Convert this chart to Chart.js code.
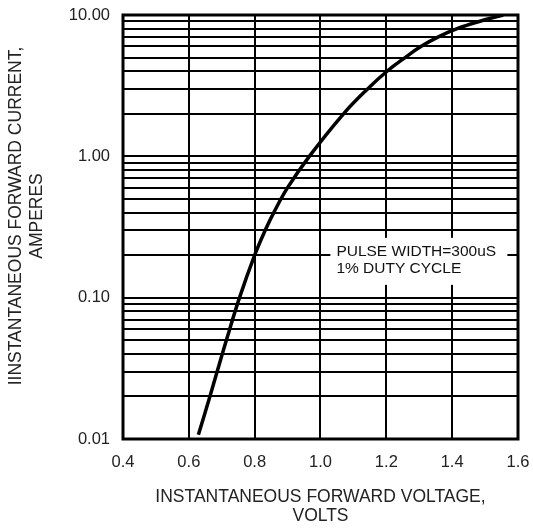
<!DOCTYPE html>
<html>
<head>
<meta charset="utf-8">
<script src="https://cdn.jsdelivr.net/npm/chart.js@4.4.1/dist/chart.umd.min.js"></script>
<style>
  html, body { margin: 0; padding: 0; background: #fff; }
  #wrap { width: 533px; height: 529px; }
</style>
</head>
<body>
<div id="wrap"><canvas id="ivCurve" width="533" height="529"></canvas></div>
<script>
// forward voltage (V) vs forward current (A)
var voltage = [0.629, 0.664, 0.686, 0.714, 0.754, 0.8, 0.832, 0.858, 0.9, 0.966, 1.07, 1.143, 1.202, 1.257, 1.306, 1.358, 1.415, 1.482, 1.555];
var current = [0.0107, 0.02, 0.03, 0.05, 0.1, 0.2, 0.3, 0.4, 0.6, 1.0, 2.0, 3.0, 4.0, 5.0, 6.0, 7.0, 8.0, 9.0, 10.0];

var xTicks = [0.4, 0.6, 0.8, 1.0, 1.2, 1.4, 1.6];
var xTickLabels = ['0.4', '0.6', '0.8', '1.0', '1.2', '1.4', '1.6'];
var yDecades = [0.01, 0.1, 1, 10];
var yTickLabels = ['0.01', '0.10', '1.00', '10.00'];
var yTitle = ['IINSTANTANEOUS FORWARD CURRENT,', 'AMPERES'];
var xTitle = ['INSTANTANEOUS FORWARD VOLTAGE,', 'VOLTS'];
var noteLines = ['PULSE WIDTH=300uS', '1% DUTY CYCLE'];

var FONT = "'Liberation Sans', Arial, sans-serif";

// log grid: 1..9 inside each decade
var yGrid = [];
for (var d = 0; d < yDecades.length - 1; d++) {
    for (var m = 1; m < 10; m++) yGrid.push(yDecades[d] * m);
}
yGrid.push(yDecades[yDecades.length - 1]);

var points = voltage.map(function (v, i) { return { x: v, y: current[i] }; });

// white box with the test condition note, covers the grid
var notePlugin = {
    id: 'note',
    beforeDatasetsDraw: function (chart) {
        var c = chart.ctx, xs = chart.scales.x, ys = chart.scales.y;
        var left = xs.getPixelForValue(1.03);
        var top = ys.getPixelForValue(0.265);
        c.save();
        c.fillStyle = '#fff';
        c.fillRect(left, top, 177, 47);
        c.fillStyle = '#111';
        c.font = '15.5px ' + FONT;
        c.textBaseline = 'middle';
        c.fillText(noteLines[0], left + 6, top + 14);
        c.fillText(noteLines[1], left + 6, top + 31);
        c.restore();
    }
};

// frame round the plot + rotated y title (sits a bit above the plot centre)
var framePlugin = {
    id: 'frame',
    afterDraw: function (chart) {
        var a = chart.chartArea, c = chart.ctx;
        c.save();
        c.strokeStyle = '#000';
        c.lineWidth = 3;
        c.strokeRect(a.left, a.top, a.right - a.left, a.bottom - a.top);
        c.fillStyle = '#222';
        c.font = '17.5px ' + FONT;
        c.textAlign = 'center';
        c.textBaseline = 'middle';
        c.translate(0, 216);
        c.rotate(-Math.PI / 2);
        c.fillText(yTitle[0], 0, 16);
        c.fillText(yTitle[1], 0, 37);
        c.restore();
    }
};

// drop the label overflow padding so the plot box sits where the original does
function noOverflow(axis) {
    axis.paddingTop = 0;
    axis.paddingBottom = 0;
    axis.paddingLeft = 0;
    axis.paddingRight = 0;
}

new Chart(document.getElementById('ivCurve'), {
    type: 'scatter',
    data: {
        datasets: [{
            data: points,
            showLine: true,
            borderColor: '#000',
            borderWidth: 3.5,
            pointRadius: 0,
            tension: 0.4,
            fill: false
        }]
    },
    options: {
        responsive: false,
        animation: false,
        events: [],
        layout: { padding: { top: 15, right: 15, left: 0, bottom: 0 } },
        plugins: {
            legend: { display: false },
            tooltip: { enabled: false }
        },
        scales: {
            x: {
                type: 'linear',
                min: 0.4,
                max: 1.6,
                afterBuildTicks: function (axis) {
                    axis.ticks = xTicks.map(function (v) { return { value: v }; });
                },
                afterFit: function (axis) { axis.height = 90; noOverflow(axis); },
                ticks: {
                    autoSkip: false,
                    maxRotation: 0,
                    padding: 14,
                    color: '#222',
                    font: { family: FONT, size: 16.5 },
                    callback: function (v) {
                        var i = xTicks.findIndex(function (t) { return Math.abs(t - v) < 1e-6; });
                        return i >= 0 ? xTickLabels[i] : '';
                    }
                },
                grid: { color: '#000', lineWidth: 2, drawTicks: false },
                border: { display: false },
                title: {
                    display: true,
                    text: xTitle,
                    color: '#222',
                    font: { family: FONT, size: 17.5, lineHeight: '19px' },
                    padding: { top: 0, bottom: 3 }
                }
            },
            y: {
                type: 'logarithmic',
                min: 0.01,
                max: 10,
                afterBuildTicks: function (axis) {
                    axis.ticks = yGrid.map(function (v) { return { value: v }; });
                },
                afterFit: function (axis) { axis.width = 123; noOverflow(axis); },
                ticks: {
                    autoSkip: false,
                    padding: 13,
                    color: '#222',
                    font: { family: FONT, size: 16.5 },
                    callback: function (v) {
                        var i = yDecades.findIndex(function (t) { return Math.abs(t - v) < t * 1e-6; });
                        return i >= 0 ? yTickLabels[i] : '';
                    }
                },
                grid: { color: '#000', lineWidth: 2, drawTicks: false },
                border: { display: false }
            }
        }
    },
    plugins: [notePlugin, framePlugin]
});
</script>
</body>
</html>
